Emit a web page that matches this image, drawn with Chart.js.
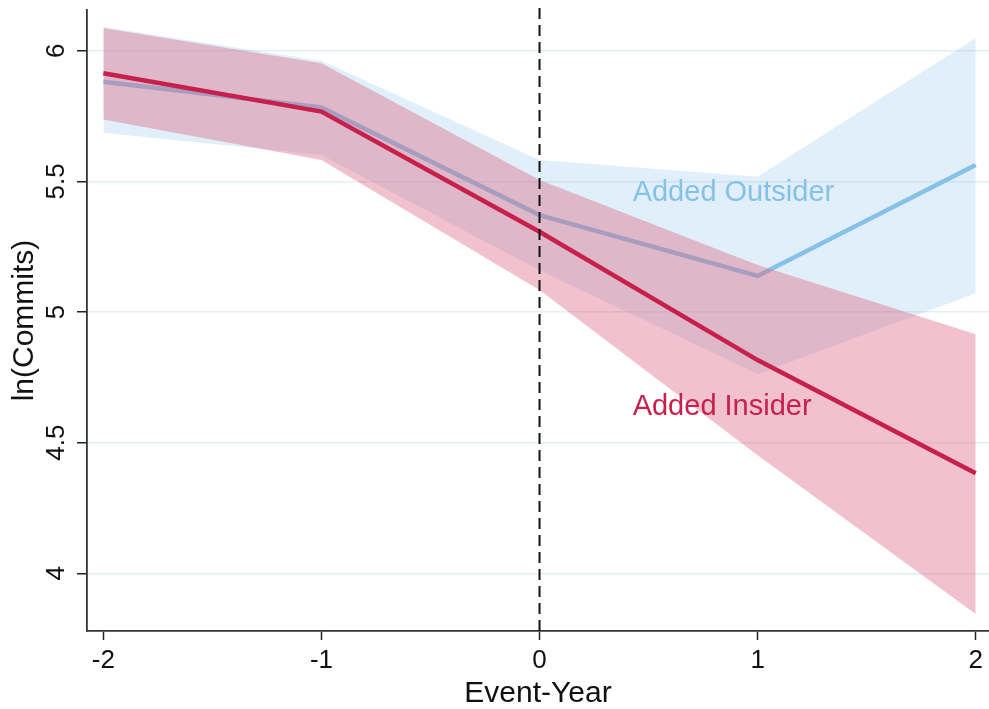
<!DOCTYPE html>
<html>
<head>
<meta charset="utf-8">
<script src="https://cdn.jsdelivr.net/npm/chart.js@4/dist/chart.umd.min.js"></script>
<style>
  html, body { margin: 0; padding: 0; background: #fff; }
  canvas { display: block; }
</style>
</head>
<body>
<canvas id="event-chart" width="989" height="709"></canvas>
<script>
const eventYears = [-2, -1, 0, 1, 2];
const yTicks = [4, 4.5, 5, 5.5, 6];

const outsiderMean = [5.881, 5.783, 5.371, 5.138, 5.563];
const outsiderUpper = [6.091, 5.962, 5.582, 5.518, 6.049];
const outsiderLower = [5.686, 5.601, 5.160, 4.763, 5.072];

const insiderMean = [5.914, 5.767, 5.307, 4.816, 4.383];
const insiderUpper = [6.087, 5.952, 5.505, 5.180, 4.915];
const insiderLower = [5.737, 5.582, 5.084, 4.452, 3.844];

// text labels placed in data units
const seriesLabels = [
  { text: 'Added Outsider', x: 0.427, y: 5.425, color: '#86c1e8' },
  { text: 'Added Insider', x: 0.427, y: 4.606, color: '#c8204c' },
];

const FONT = '"Liberation Sans", Arial, Helvetica, sans-serif';

function points(values) {
  return eventYears.map((x, i) => ({ x, y: values[i] }));
}

function band(values, fill, color, order) {
  return {
    data: points(values),
    borderWidth: 0,
    pointRadius: 0,
    backgroundColor: color,
    fill: fill,
    order: order,
  };
}

// INFO dashed reference line at event year 0 plus the series labels
const annotations = {
  id: 'annotations',
  afterDatasetsDraw(chart) {
    const { ctx, chartArea, scales: { x, y } } = chart;
    const px = x.getPixelForValue(0);
    ctx.save();
    ctx.strokeStyle = '#111';
    ctx.lineWidth = 2;
    ctx.setLineDash([11, 6]);
    ctx.beginPath();
    ctx.moveTo(px, chartArea.top - 2);
    ctx.lineTo(px, chartArea.bottom);
    ctx.stroke();
    ctx.setLineDash([]);
    ctx.font = '29px ' + FONT;
    ctx.textBaseline = 'alphabetic';
    ctx.textAlign = 'left';
    seriesLabels.forEach(l => {
      ctx.fillStyle = l.color;
      ctx.fillText(l.text, x.getPixelForValue(l.x), y.getPixelForValue(l.y));
    });
    ctx.restore();
  }
};

const ctx = document.getElementById('event-chart');
new Chart(ctx, {
  type: 'line',
  data: {
    datasets: [
      band(outsiderUpper, '+1', 'rgba(133,192,232,0.25)', 6),
      band(outsiderLower, false, 'rgba(133,192,232,0.25)', 5),
      {
        data: points(outsiderMean),
        borderColor: '#86c1e8',
        borderWidth: 4.5,
        pointRadius: 0,
        fill: false,
        order: 4,
      },
      band(insiderUpper, '+1', 'rgba(220,100,130,0.4)', 3),
      band(insiderLower, false, 'rgba(220,100,130,0.4)', 2),
      {
        data: points(insiderMean),
        borderColor: '#c8204c',
        borderWidth: 4.5,
        pointRadius: 0,
        fill: false,
        order: 1,
      },
    ]
  },
  options: {
    responsive: false,
    animation: false,
    layout: { padding: { top: 10, right: 0, left: 0, bottom: 0 } },
    plugins: {
      legend: { display: false },
      tooltip: { enabled: false },
    },
    elements: { line: { tension: 0, borderCapStyle: 'butt', borderJoinStyle: 'miter' } },
    scales: {
      x: {
        type: 'linear',
        min: -2.075,
        max: 2.061,
        afterBuildTicks: scale => { scale.ticks = eventYears.map(v => ({ value: v })); },
        afterFit: scale => { scale.height = 78; scale.paddingLeft = 0; scale.paddingRight = 0; },
        grid: { drawOnChartArea: false, tickLength: 9, tickColor: '#222', tickWidth: 1.5 },
        border: { color: '#333', width: 1.8 },
        ticks: {
          color: '#111',
          font: { family: FONT, size: 26 },
          padding: 5,
          maxRotation: 0,
          callback: v => String(v),
        },
        title: {
          display: true,
          text: 'Event-Year',
          color: '#111',
          font: { family: FONT, size: 30, lineHeight: 1.0 },
          padding: { top: 0, bottom: 0 },
        },
      },
      y: {
        min: 3.779,
        max: 6.156,
        afterBuildTicks: scale => { scale.ticks = yTicks.map(v => ({ value: v })); },
        afterFit: scale => { scale.width = 87; scale.paddingTop = 0; scale.paddingBottom = 0; },
        grid: { color: '#e4eef3', lineWidth: 1.5, tickLength: 10, tickColor: '#222', tickWidth: 1.5 },
        border: { color: '#333', width: 1.8 },
        ticks: {
          color: '#111',
          font: { family: FONT, size: 26 },
          minRotation: 90,
          maxRotation: 90,
          crossAlign: 'center',
          padding: 2,
          callback: v => String(v),
        },
        title: {
          display: true,
          text: 'ln(Commits)',
          color: '#111',
          font: { family: FONT, size: 30, lineHeight: 1.0 },
          padding: { top: 10, bottom: 0 },
        },
      },
    },
  },
  plugins: [annotations],
});
</script>
</body>
</html>
